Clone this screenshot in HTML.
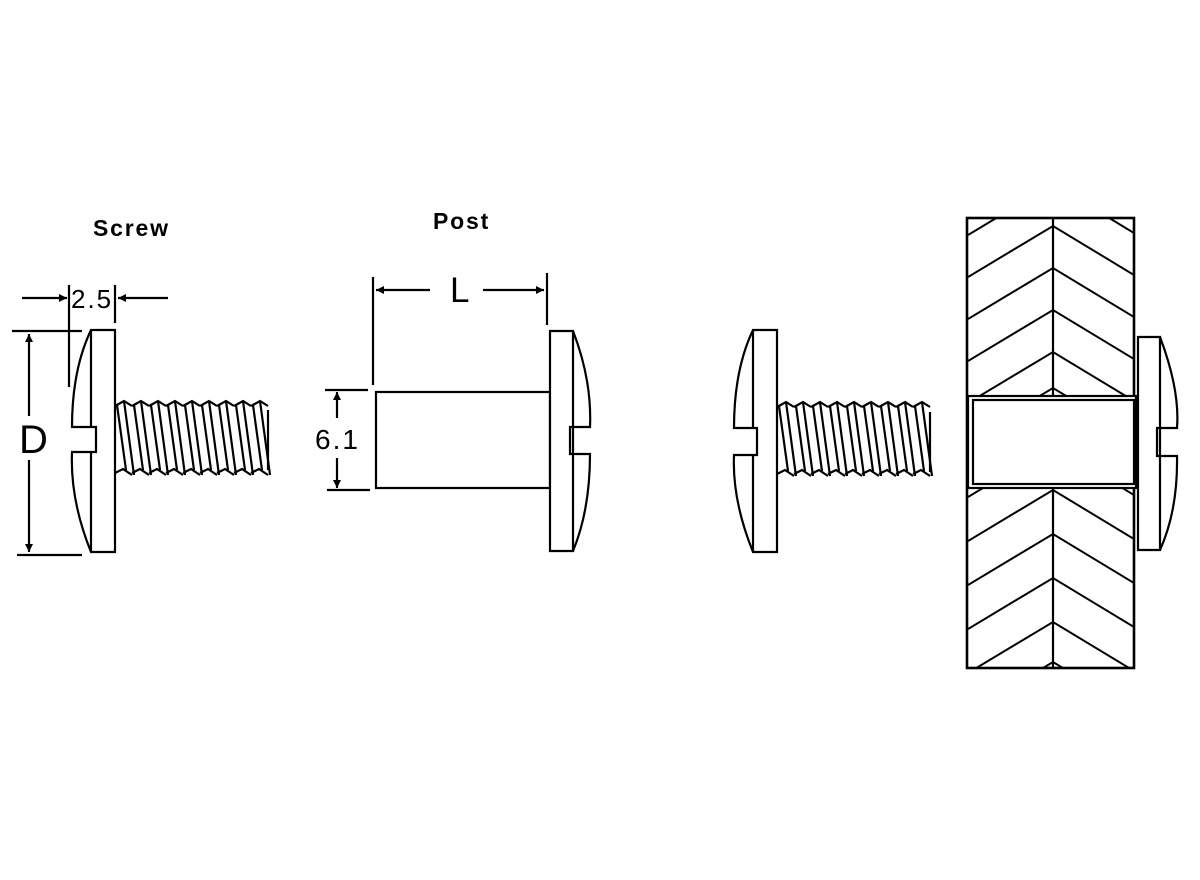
<!DOCTYPE html>
<html><head><meta charset="utf-8"><style>
html,body{margin:0;padding:0;background:#fff}
svg{display:block}
text{font-family:"Liberation Sans",sans-serif;fill:#000}
</style></head><body>
<svg width="1200" height="880" viewBox="0 0 1200 880" xmlns="http://www.w3.org/2000/svg">
<defs>
<g id="th" fill="none" stroke="#000" stroke-width="2.2">
  <polyline points="0,3 9,-2 17,3"/>
  <polyline points="0,70 8,66 17,72"/>
  <line x1="9" y1="-2" x2="19" y2="72"/>
  <line x1="2" y1="2" x2="11" y2="67"/>
</g>
<g id="thread">
  <use href="#th" x="0"/><use href="#th" x="17"/><use href="#th" x="34"/><use href="#th" x="51"/><use href="#th" x="68"/><use href="#th" x="85"/><use href="#th" x="102"/><use href="#th" x="119"/><use href="#th" x="136"/>
</g>
<marker id="ar" viewBox="0 0 10 10" refX="10" refY="5" markerWidth="16" markerHeight="8" markerUnits="userSpaceOnUse" orient="auto"><path d="M0,0 L10,5 L0,10 z" fill="#000"/></marker>
<clipPath id="ct"><rect x="968" y="219" width="166" height="177"/></clipPath>
<clipPath id="cb"><rect x="968" y="489" width="166" height="178"/></clipPath>
<g id="chev" fill="none" stroke="#000" stroke-width="2"><polyline points="968,51 1053,0 1134,49"/></g>
</defs>

<text x="93" y="236" font-size="23" font-weight="bold" letter-spacing="1.8">Screw</text>
<text x="433" y="229" font-size="23" font-weight="bold" letter-spacing="1.8">Post</text>

<g fill="none" stroke="#000" stroke-width="2.2">
<path d="M91,330 L115,330 L115,552 L91,552 Q70,500 72,452 L96,452 L96,427 L72,427 Q72,370 91,330 Z" fill="#fff"/>
<line x1="91" y1="330" x2="91" y2="427"/><line x1="91" y1="452" x2="91" y2="552"/>
<line x1="268" y1="410" x2="268" y2="470"/>
<line x1="12" y1="331" x2="82" y2="331"/>
<line x1="17" y1="555" x2="82" y2="555"/>
<line x1="29" y1="416" x2="29" y2="334" marker-end="url(#ar)"/>
<line x1="29" y1="460" x2="29" y2="552" marker-end="url(#ar)"/>
<line x1="69" y1="285" x2="69" y2="387"/>
<line x1="115" y1="285" x2="115" y2="323"/>
<line x1="22" y1="298" x2="67" y2="298" marker-end="url(#ar)"/>
<line x1="168" y1="298" x2="118" y2="298" marker-end="url(#ar)"/>

<rect x="376" y="392" width="174" height="96"/>
<path d="M550,331 L573,331 L573,551 L550,551 Z" fill="#fff"/>
<path d="M573,331 Q592,380 590,427 L570,427 L570,454 L590,454 Q590,510 573,551"/>
<line x1="373" y1="277" x2="373" y2="385"/>
<line x1="547" y1="273" x2="547" y2="325"/>
<line x1="430" y1="290" x2="376" y2="290" marker-end="url(#ar)"/>
<line x1="483" y1="290" x2="544" y2="290" marker-end="url(#ar)"/>
<line x1="325" y1="390" x2="368" y2="390"/>
<line x1="327" y1="490" x2="370" y2="490"/>
<line x1="337" y1="418" x2="337" y2="392" marker-end="url(#ar)"/>
<line x1="337" y1="458" x2="337" y2="488" marker-end="url(#ar)"/>

<path d="M753,330 L777,330 L777,552 L753,552 Q732,500 734,455 L757,455 L757,428 L734,428 Q734,370 753,330 Z" fill="#fff"/>
<line x1="753" y1="330" x2="753" y2="428"/><line x1="753" y1="455" x2="753" y2="552"/>
<line x1="930" y1="412" x2="930" y2="472"/>

<g clip-path="url(#ct)">
 <use href="#chev" y="184"/><use href="#chev" y="226"/><use href="#chev" y="268"/><use href="#chev" y="310"/><use href="#chev" y="352"/><use href="#chev" y="388"/>
</g>
<g clip-path="url(#cb)">
 <use href="#chev" y="446"/><use href="#chev" y="490"/><use href="#chev" y="534"/><use href="#chev" y="578"/><use href="#chev" y="622"/><use href="#chev" y="662"/>
</g>
<line x1="1053" y1="218" x2="1053" y2="396"/>
<line x1="1053" y1="488" x2="1053" y2="668"/>
<rect x="967" y="218" width="167" height="450" stroke-width="2.6"/>
<rect x="968" y="396" width="168" height="92" fill="#fff"/>
<rect x="973" y="400" width="161" height="84"/>
<path d="M1138,337 L1160,337 L1160,550 L1138,550 Z" fill="#fff"/>
<path d="M1160,337 Q1180,390 1177,428 L1157,428 L1157,456 L1177,456 Q1178,510 1160,550"/>
</g>
<use href="#thread" x="115" y="403"/>
<use href="#thread" x="777" y="404"/>

<text x="71" y="308" font-size="26" letter-spacing="2">2.5</text>
<text x="19" y="453" font-size="40">D</text>
<text x="450" y="302" font-size="35">L</text>
<text x="315" y="449" font-size="28" letter-spacing="2">6.1</text>
</svg>
</body></html>
